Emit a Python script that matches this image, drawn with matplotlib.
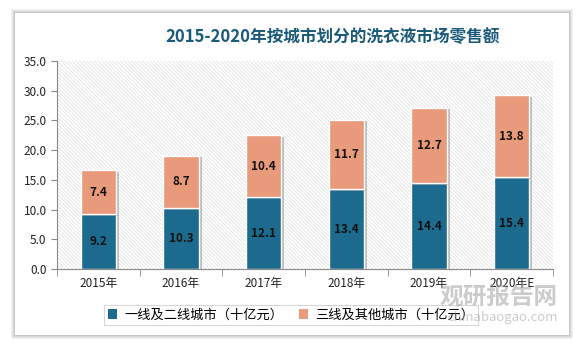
import numpy as np
import matplotlib
matplotlib.use("Agg")
import matplotlib.pyplot as plt
from matplotlib.patches import Rectangle, Patch
import matplotlib.patheffects as pe

plt.rcParams['font.family'] = ['Noto Sans CJK SC', 'DejaVu Sans']
plt.rcParams['hatch.linewidth'] = 0.5

years = ['2015年', '2016年', '2017年', '2018年', '2019年', '2020年E']
tier12 = [9.2, 10.3, 12.1, 13.4, 14.4, 15.4]
tier3 = [7.4, 8.7, 10.4, 11.7, 12.7, 13.8]

c_dark = '#1c6b8f'
c_light = '#e89a7a'

W, H = 582, 348
fig = plt.figure(figsize=(W / 100, H / 100), dpi=100)
fig.patch.set_facecolor('white')

# card with soft shadow
for i, a in enumerate([0.05, 0.05, 0.06, 0.08]):
    g = 4 - i
    fig.patches.append(Rectangle(((15 - g) / W, 1 - (335 + g) / H),
                                 (554 + 2 * g) / W, (322 + 2 * g) / H,
                                 transform=fig.transFigure, facecolor='black',
                                 alpha=a, edgecolor='none', zorder=-2))
fig.patches.append(Rectangle((15 / W, 1 - 335 / H), 554 / W, 322 / H,
                             transform=fig.transFigure, facecolor='white',
                             edgecolor='none', zorder=-1))

ax = fig.add_axes([57 / W, 1 - 269 / H, 496 / W, 208 / H])
ax.set_zorder(1)
ax.set_facecolor('white')
ax.add_patch(Rectangle((0, 0), 1, 1, transform=ax.transAxes, facecolor='none',
                       edgecolor='#dcdcdc', hatch='\\' * 9, lw=0, zorder=0))

x = np.arange(len(years))
shadow = [pe.SimplePatchShadow(offset=(2, -1), shadow_rgbFace='#888888', alpha=0.5), pe.Normal()]
b1 = ax.bar(x, tier12, width=0.43, color=c_dark, edgecolor='white', lw=1.0, zorder=2)
b2 = ax.bar(x, tier3, width=0.43, bottom=tier12, color=c_light, edgecolor='white', lw=1.0, zorder=2)
for b in list(b1) + list(b2):
    b.set_path_effects(shadow)

for i in range(len(years)):
    ax.text(x[i], tier12[i] / 2, f'{tier12[i]:.1f}', ha='center', va='center',
            fontsize=8.5, fontweight='bold', color='#111111', zorder=3)
    ax.text(x[i], tier12[i] + tier3[i] / 2, f'{tier3[i]:.1f}', ha='center', va='center',
            fontsize=8.5, fontweight='bold', color='#111111', zorder=3)

ax.set_xlim(-0.5, len(years) - 0.5)
ax.set_ylim(0, 35)
ax.set_yticks(np.arange(0, 36, 5))
ax.set_yticklabels([f'{v:.1f}' for v in np.arange(0, 36, 5)])
ax.set_xticks(x)
ax.set_xticklabels(years)
ax.set_xticks(np.arange(-0.5, len(years), 1), minor=True)
ax.tick_params(axis='x', which='major', length=0, pad=6, labelsize=8.5, colors='#222222')
ax.tick_params(axis='x', which='minor', length=5, color='#888888', direction='out')
ax.tick_params(axis='y', length=4, color='#888888', labelsize=8.5, colors='#222222')
for s in ['top', 'right']:
    ax.spines[s].set_visible(False)
for s in ['left', 'bottom']:
    ax.spines[s].set_color('#888888')

fig.text(333 / W, 1 - 37 / H, '2015-2020年按城市划分的洗衣液市场零售额', ha='center', va='center',
         fontsize=12, fontweight='bold', color='#1a5a78')

handles = [Patch(facecolor=c_dark, edgecolor='none', label='一线及二线城市（十亿元）'),
           Patch(facecolor=c_light, edgecolor='none', label='三线及其他城市（十亿元）')]
leg = fig.legend(handles=handles, loc='center', bbox_to_anchor=(291 / W, 1 - 315 / H),
                 ncol=2, frameon=True, fontsize=9.5, handlelength=0.7, handleheight=0.7,
                 handletextpad=0.5, columnspacing=1.2, borderpad=0.3, fancybox=False)
leg.get_frame().set_edgecolor('#cccccc')
leg.get_frame().set_linewidth(0.8)
leg.set_zorder(2)

# watermark
fig.text(558 / W, 1 - 297 / H, '观研报告网', ha='right', va='center', fontsize=17,
         fontweight='bold', color='#999999', alpha=0.5, zorder=3)
fig.text(558 / W, 1 - 318 / H, 'chinabaogao.com', ha='right', va='center', fontsize=9.5,
         color='#999999', alpha=0.5, zorder=3)

fig.savefig('out.png', dpi=100)
